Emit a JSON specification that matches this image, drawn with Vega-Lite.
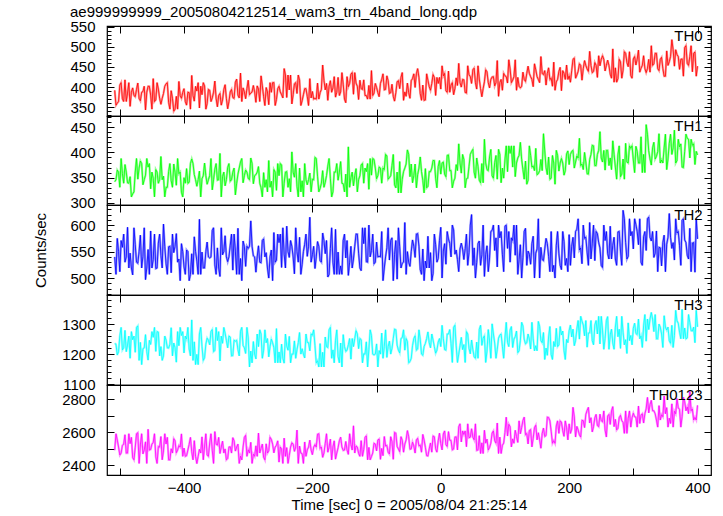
{
"$schema": "https://vega.github.io/schema/vega-lite/v6.json",
"padding": {"left": 32, "top": 4, "right": 10, "bottom": 0},
"spacing": 0,
"bounds": "flush",
"config": {
  "view": {"stroke": "#000000", "strokeWidth": 1.2},
  "font": "Liberation Sans",
  "axis": {"labelFont": "Liberation Sans", "labelFontSize": 15, "labelColor": "#000000", "titleFont": "Liberation Sans", "titleFontSize": 15, "titleFontWeight": "normal", "titleColor": "#000000", "tickColor": "#000000", "domain": false, "grid": false, "title": null, "tickWidth": 1},
  "title": {"font": "Liberation Sans", "fontSize": 15, "fontWeight": "normal", "color": "#000000", "anchor": "start"}
},
"datasets": {
"d": [
{"t":-508,"a":392,"b":342,"c":540,"d":1236,"e":2490},
{"t":-504,"a":360,"b":365,"c":575,"d":1198,"e":2552},
{"t":-500,"a":405,"b":331,"c":512,"d":1262,"e":2461},
{"t":-496,"a":371,"b":358,"c":558,"d":1215,"e":2519},
{"t":-492,"a":418,"b":376,"c":530,"d":1280,"e":2584},
{"t":-488,"a":385,"b":340,"c":596,"d":1231,"e":2473},
{"t":-484,"a":352,"b":352,"c":547,"d":1187,"e":2530},
{"t":-480,"a":398,"b":318,"c":506,"d":1249,"e":2445},
{"t":-476,"a":376,"b":361,"c":563,"d":1207,"e":2508},
{"t":-472,"a":410,"b":347,"c":528,"d":1295,"e":2596},
{"t":-468,"a":366,"b":383,"c":581,"d":1240,"e":2522},
{"t":-464,"a":389,"b":336,"c":541,"d":1219,"e":2468},
{"t":-460,"a":343,"b":355,"c":497,"d":1266,"e":2541},
{"t":-456,"a":402,"b":371,"c":554,"d":1181,"e":2617},
{"t":-452,"a":380,"b":328,"c":589,"d":1233,"e":2495},
{"t":-448,"a":421,"b":349,"c":535,"d":1257,"e":2537},
{"t":-444,"a":368,"b":366,"c":518,"d":1210,"e":2450},
{"t":-440,"a":395,"b":339,"c":566,"d":1274,"e":2512},
{"t":-436,"a":357,"b":392,"c":543,"d":1226,"e":2573},
{"t":-432,"a":384,"b":353,"c":602,"d":1195,"e":2486},
{"t":-428,"a":408,"b":331,"c":527,"d":1248,"e":2528},
{"t":-424,"a":362,"b":362,"c":559,"d":1221,"e":2432},
{"t":-420,"a":391,"b":344,"c":510,"d":1289,"e":2499},
{"t":-416,"a":340,"b":377,"c":548,"d":1238,"e":2560},
{"t":-412,"a":377,"b":335,"c":584,"d":1174,"e":2475},
{"t":-408,"a":414,"b":358,"c":536,"d":1229,"e":2518},
{"t":-404,"a":372,"b":321,"c":565,"d":1263,"e":2589},
{"t":-400,"a":396,"b":350,"c":521,"d":1205,"e":2503},
{"t":-396,"a":355,"b":368,"c":553,"d":1251,"e":2457},
{"t":-392,"a":386,"b":341,"c":495,"d":1218,"e":2526},
{"t":-388,"a":429,"b":387,"c":546,"d":1315,"e":2481},
{"t":-384,"a":365,"b":356,"c":578,"d":1242,"e":2548},
{"t":-380,"a":390,"b":333,"c":532,"d":1200,"e":2409},
{"t":-376,"a":348,"b":363,"c":611,"d":1268,"e":2496},
{"t":-372,"a":381,"b":348,"c":549,"d":1227,"e":2571},
{"t":-368,"a":403,"b":379,"c":519,"d":1189,"e":2515},
{"t":-364,"a":359,"b":337,"c":568,"d":1254,"e":2462},
{"t":-360,"a":392,"b":354,"c":538,"d":1232,"e":2534},
{"t":-356,"a":373,"b":326,"c":590,"d":1283,"e":2490},
{"t":-352,"a":415,"b":367,"c":525,"d":1213,"e":2603},
{"t":-348,"a":351,"b":345,"c":557,"d":1246,"e":2521},
{"t":-344,"a":384,"b":398,"c":503,"d":1178,"e":2470},
{"t":-340,"a":368,"b":352,"c":544,"d":1237,"e":2545},
{"t":-336,"a":406,"b":334,"c":580,"d":1271,"e":2498},
{"t":-332,"a":346,"b":370,"c":531,"d":1222,"e":2440},
{"t":-328,"a":388,"b":343,"c":562,"d":1258,"e":2511},
{"t":-324,"a":374,"b":361,"c":515,"d":1196,"e":2566},
{"t":-320,"a":412,"b":316,"c":551,"d":1244,"e":2485},
{"t":-316,"a":380,"b":357,"c":594,"d":1216,"e":2527},
{"t":-312,"a":435,"b":381,"c":537,"d":1277,"e":2454},
{"t":-308,"a":398,"b":340,"c":570,"d":1230,"e":2509},
{"t":-304,"a":371,"b":365,"c":522,"d":1203,"e":2580},
{"t":-300,"a":417,"b":349,"c":556,"d":1255,"e":2493},
{"t":-296,"a":385,"b":389,"c":608,"d":1211,"e":2538},
{"t":-292,"a":404,"b":338,"c":542,"d":1243,"e":2466},
{"t":-288,"a":362,"b":356,"c":511,"d":1185,"e":2517},
{"t":-284,"a":395,"b":372,"c":561,"d":1226,"e":2594},
{"t":-280,"a":428,"b":330,"c":529,"d":1268,"e":2502},
{"t":-276,"a":376,"b":360,"c":574,"d":1214,"e":2448},
{"t":-272,"a":399,"b":346,"c":548,"d":1239,"e":2529},
{"t":-268,"a":356,"b":384,"c":500,"d":1192,"e":2487},
{"t":-264,"a":387,"b":343,"c":553,"d":1251,"e":2556},
{"t":-260,"a":411,"b":366,"c":586,"d":1222,"e":2474},
{"t":-256,"a":369,"b":325,"c":534,"d":1286,"e":2520},
{"t":-252,"a":402,"b":354,"c":567,"d":1208,"e":2418},
{"t":-248,"a":381,"b":375,"c":520,"d":1234,"e":2497},
{"t":-244,"a":446,"b":339,"c":545,"d":1171,"e":2563},
{"t":-240,"a":374,"b":362,"c":598,"d":1228,"e":2506},
{"t":-236,"a":393,"b":348,"c":539,"d":1260,"e":2459},
{"t":-232,"a":358,"b":401,"c":560,"d":1201,"e":2535},
{"t":-228,"a":408,"b":351,"c":508,"d":1245,"e":2483},
{"t":-224,"a":384,"b":333,"c":550,"d":1216,"e":2612},
{"t":-220,"a":417,"b":369,"c":577,"d":1273,"e":2515},
{"t":-216,"a":366,"b":344,"c":526,"d":1219,"e":2469},
{"t":-212,"a":396,"b":378,"c":564,"d":1188,"e":2540},
{"t":-208,"a":377,"b":336,"c":541,"d":1240,"e":2492},
{"t":-204,"a":421,"b":359,"c":615,"d":1212,"e":2551},
{"t":-200,"a":389,"b":347,"c":544,"d":1264,"e":2463},
{"t":-196,"a":372,"b":390,"c":518,"d":1230,"e":2524},
{"t":-192,"a":410,"b":353,"c":569,"d":1179,"e":2587},
{"t":-188,"a":386,"b":329,"c":533,"d":1236,"e":2501},
{"t":-184,"a":455,"b":364,"c":585,"d":1207,"e":2447},
{"t":-180,"a":393,"b":341,"c":546,"d":1258,"e":2531},
{"t":-176,"a":367,"b":373,"c":502,"d":1223,"e":2478},
{"t":-172,"a":416,"b":349,"c":556,"d":1290,"e":2557},
{"t":-168,"a":398,"b":322,"c":530,"d":1215,"e":2510},
{"t":-164,"a":375,"b":361,"c":592,"d":1247,"e":2436},
{"t":-160,"a":424,"b":345,"c":549,"d":1193,"e":2505},
{"t":-156,"a":388,"b":382,"c":523,"d":1238,"e":2569},
{"t":-152,"a":407,"b":338,"c":571,"d":1266,"e":2489},
{"t":-148,"a":361,"b":357,"c":538,"d":1210,"e":2543},
{"t":-144,"a":401,"b":411,"c":505,"d":1232,"e":2465},
{"t":-140,"a":432,"b":350,"c":560,"d":1184,"e":2525},
{"t":-136,"a":382,"b":334,"c":536,"d":1226,"e":2638},
{"t":-132,"a":410,"b":368,"c":583,"d":1279,"e":2516},
{"t":-128,"a":369,"b":346,"c":547,"d":1219,"e":2471},
{"t":-124,"a":396,"b":375,"c":514,"d":1249,"e":2548},
{"t":-120,"a":418,"b":339,"c":565,"d":1202,"e":2494},
{"t":-116,"a":379,"b":362,"c":531,"d":1242,"e":2577},
{"t":-112,"a":404,"b":327,"c":600,"d":1217,"e":2507},
{"t":-108,"a":441,"b":355,"c":552,"d":1263,"e":2452},
{"t":-104,"a":385,"b":386,"c":527,"d":1198,"e":2532},
{"t":-100,"a":399,"b":348,"c":568,"d":1235,"e":2486},
{"t":-96,"a":376,"b":371,"c":541,"d":1213,"e":2558},
{"t":-92,"a":419,"b":339,"c":588,"d":1271,"e":2501},
{"t":-88,"a":393,"b":366,"c":519,"d":1227,"e":2573},
{"t":-84,"a":428,"b":393,"c":557,"d":1190,"e":2519},
{"t":-80,"a":384,"b":350,"c":534,"d":1244,"e":2467},
{"t":-76,"a":407,"b":374,"c":576,"d":1220,"e":2542},
{"t":-72,"a":365,"b":336,"c":545,"d":1284,"e":2598},
{"t":-68,"a":413,"b":361,"c":498,"d":1231,"e":2513},
{"t":-64,"a":396,"b":382,"c":559,"d":1205,"e":2481},
{"t":-60,"a":436,"b":347,"c":528,"d":1256,"e":2550},
{"t":-56,"a":388,"b":369,"c":605,"d":1214,"e":2527},
{"t":-52,"a":410,"b":405,"c":550,"d":1243,"e":2609},
{"t":-48,"a":372,"b":352,"c":522,"d":1176,"e":2496},
{"t":-44,"a":421,"b":340,"c":572,"d":1229,"e":2539},
{"t":-40,"a":399,"b":377,"c":539,"d":1262,"e":2473},
{"t":-36,"a":446,"b":356,"c":584,"d":1218,"e":2562},
{"t":-32,"a":384,"b":391,"c":516,"d":1250,"e":2521},
{"t":-28,"a":405,"b":345,"c":555,"d":1197,"e":2586},
{"t":-24,"a":368,"b":368,"c":532,"d":1237,"e":2508},
{"t":-20,"a":417,"b":333,"c":579,"d":1275,"e":2455},
{"t":-16,"a":392,"b":362,"c":548,"d":1222,"e":2534},
{"t":-12,"a":431,"b":384,"c":509,"d":1248,"e":2576},
{"t":-8,"a":379,"b":349,"c":563,"d":1204,"e":2499},
{"t":-4,"a":409,"b":372,"c":537,"d":1241,"e":2547},
{"t":0,"a":395,"b":357,"c":596,"d":1226,"e":2530},
{"t":4,"a":428,"b":381,"c":551,"d":1253,"e":2588},
{"t":8,"a":391,"b":352,"c":526,"d":1214,"e":2524},
{"t":12,"a":440,"b":395,"c":574,"d":1268,"e":2603},
{"t":16,"a":405,"b":364,"c":540,"d":1236,"e":2549},
{"t":20,"a":381,"b":343,"c":591,"d":1290,"e":2497},
{"t":24,"a":423,"b":376,"c":553,"d":1229,"e":2571},
{"t":28,"a":459,"b":417,"c":512,"d":1201,"e":2632},
{"t":32,"a":400,"b":359,"c":566,"d":1257,"e":2540},
{"t":36,"a":418,"b":386,"c":535,"d":1233,"e":2585},
{"t":40,"a":385,"b":348,"c":583,"d":1276,"e":2511},
{"t":44,"a":431,"b":372,"c":548,"d":1220,"e":2566},
{"t":48,"a":409,"b":402,"c":620,"d":1248,"e":2620},
{"t":52,"a":447,"b":361,"c":557,"d":1192,"e":2553},
{"t":56,"a":395,"b":389,"c":529,"d":1241,"e":2489},
{"t":60,"a":420,"b":345,"c":570,"d":1283,"e":2578},
{"t":64,"a":376,"b":378,"c":544,"d":1230,"e":2535},
{"t":68,"a":413,"b":426,"c":503,"d":1262,"e":2611},
{"t":72,"a":438,"b":366,"c":561,"d":1211,"e":2557},
{"t":76,"a":398,"b":391,"c":538,"d":1245,"e":2506},
{"t":80,"a":425,"b":354,"c":590,"d":1302,"e":2594},
{"t":84,"a":403,"b":380,"c":552,"d":1238,"e":2548},
{"t":88,"a":466,"b":347,"c":521,"d":1217,"e":2655},
{"t":92,"a":411,"b":396,"c":576,"d":1264,"e":2569},
{"t":96,"a":392,"b":369,"c":545,"d":1227,"e":2520},
{"t":100,"a":428,"b":385,"c":598,"d":1255,"e":2598},
{"t":104,"a":410,"b":362,"c":556,"d":1240,"e":2576},
{"t":108,"a":445,"b":398,"c":530,"d":1281,"e":2632},
{"t":112,"a":417,"b":371,"c":571,"d":1223,"e":2559},
{"t":116,"a":468,"b":352,"c":543,"d":1259,"e":2611},
{"t":120,"a":424,"b":389,"c":507,"d":1206,"e":2537},
{"t":124,"a":398,"b":420,"c":563,"d":1247,"e":2590},
{"t":128,"a":437,"b":366,"c":539,"d":1295,"e":2670},
{"t":132,"a":414,"b":383,"c":594,"d":1235,"e":2584},
{"t":136,"a":452,"b":345,"c":551,"d":1268,"e":2528},
{"t":140,"a":426,"b":394,"c":526,"d":1218,"e":2615},
{"t":144,"a":401,"b":373,"c":579,"d":1252,"e":2563},
{"t":148,"a":443,"b":408,"c":547,"d":1229,"e":2641},
{"t":152,"a":419,"b":358,"c":612,"d":1310,"e":2596},
{"t":156,"a":476,"b":386,"c":558,"d":1246,"e":2502},
{"t":160,"a":431,"b":437,"c":533,"d":1273,"e":2624},
{"t":164,"a":405,"b":370,"c":575,"d":1221,"e":2579},
{"t":168,"a":448,"b":391,"c":541,"d":1258,"e":2688},
{"t":172,"a":422,"b":349,"c":588,"d":1199,"e":2605},
{"t":176,"a":462,"b":379,"c":524,"d":1243,"e":2548},
{"t":180,"a":413,"b":404,"c":562,"d":1287,"e":2637},
{"t":184,"a":439,"b":363,"c":546,"d":1232,"e":2592},
{"t":188,"a":391,"b":388,"c":516,"d":1265,"e":2660},
{"t":192,"a":434,"b":355,"c":569,"d":1213,"e":2574},
{"t":196,"a":455,"b":397,"c":537,"d":1250,"e":2626},
{"t":200,"a":428,"b":376,"c":582,"d":1279,"e":2650},
{"t":204,"a":441,"b":402,"c":560,"d":1258,"e":2618},
{"t":208,"a":472,"b":369,"c":538,"d":1229,"e":2692},
{"t":212,"a":430,"b":393,"c":592,"d":1284,"e":2634},
{"t":216,"a":458,"b":428,"c":553,"d":1251,"e":2583},
{"t":220,"a":417,"b":377,"c":527,"d":1311,"e":2671},
{"t":224,"a":466,"b":400,"c":575,"d":1262,"e":2627},
{"t":228,"a":445,"b":358,"c":549,"d":1224,"e":2731},
{"t":232,"a":489,"b":386,"c":605,"d":1272,"e":2655},
{"t":236,"a":436,"b":414,"c":566,"d":1246,"e":2601},
{"t":240,"a":461,"b":374,"c":533,"d":1298,"e":2686},
{"t":244,"a":424,"b":396,"c":584,"d":1268,"e":2640},
{"t":248,"a":453,"b":441,"c":557,"d":1235,"e":2708},
{"t":252,"a":478,"b":381,"c":520,"d":1281,"e":2662},
{"t":256,"a":440,"b":365,"c":571,"d":1253,"e":2612},
{"t":260,"a":467,"b":404,"c":546,"d":1326,"e":2697},
{"t":264,"a":432,"b":389,"c":598,"d":1265,"e":2646},
{"t":268,"a":495,"b":423,"c":562,"d":1238,"e":2754},
{"t":272,"a":448,"b":371,"c":536,"d":1291,"e":2677},
{"t":276,"a":421,"b":395,"c":587,"d":1259,"e":2623},
{"t":280,"a":463,"b":352,"c":551,"d":1220,"e":2701},
{"t":284,"a":442,"b":387,"c":628,"d":1274,"e":2659},
{"t":288,"a":484,"b":418,"c":567,"d":1249,"e":2728},
{"t":292,"a":451,"b":379,"c":541,"d":1305,"e":2683},
{"t":296,"a":429,"b":408,"c":580,"d":1263,"e":2630},
{"t":300,"a":470,"b":385,"c":555,"d":1287,"e":2714},
{"t":304,"a":455,"b":412,"c":601,"d":1270,"e":2690},
{"t":308,"a":492,"b":379,"c":563,"d":1318,"e":2758},
{"t":312,"a":447,"b":431,"c":530,"d":1262,"e":2702},
{"t":316,"a":478,"b":396,"c":578,"d":1295,"e":2655},
{"t":320,"a":436,"b":455,"c":552,"d":1244,"e":2741},
{"t":324,"a":469,"b":403,"c":615,"d":1283,"e":2716},
{"t":328,"a":503,"b":375,"c":570,"d":1340,"e":2792},
{"t":332,"a":458,"b":420,"c":539,"d":1276,"e":2729},
{"t":336,"a":484,"b":392,"c":589,"d":1252,"e":2673},
{"t":340,"a":441,"b":437,"c":558,"d":1301,"e":2760},
{"t":344,"a":474,"b":385,"c":523,"d":1268,"e":2705},
{"t":348,"a":427,"b":409,"c":581,"d":1329,"e":2818},
{"t":352,"a":490,"b":366,"c":564,"d":1281,"e":2748},
{"t":356,"a":463,"b":418,"c":622,"d":1246,"e":2684},
{"t":360,"a":518,"b":396,"c":556,"d":1297,"e":2771},
{"t":364,"a":452,"b":444,"c":534,"d":1263,"e":2726},
{"t":368,"a":481,"b":384,"c":585,"d":1312,"e":2803},
{"t":372,"a":444,"b":411,"c":561,"d":1274,"e":2737},
{"t":376,"a":470,"b":371,"c":609,"d":1350,"e":2695},
{"t":380,"a":498,"b":402,"c":572,"d":1288,"e":2784},
{"t":384,"a":459,"b":428,"c":543,"d":1255,"e":2752},
{"t":388,"a":476,"b":389,"c":594,"d":1306,"e":2846},
{"t":392,"a":438,"b":414,"c":566,"d":1278,"e":2740},
{"t":396,"a":487,"b":376,"c":511,"d":1239,"e":2689},
{"t":400,"a":452,"b":395,"c":574,"d":1292,"e":2762},
{"t":-506,"a":355,"b":346,"c":507,"d":1234,"e":2590},
{"t":-502,"a":364,"b":361,"c":550,"d":1209,"e":2509},
{"t":-498,"a":411,"b":388,"c":571,"d":1290,"e":2473},
{"t":-494,"a":364,"b":339,"c":583,"d":1222,"e":2527},
{"t":-490,"a":364,"b":361,"c":540,"d":1209,"e":2473},
{"t":-486,"a":411,"b":339,"c":519,"d":1261,"e":2590},
{"t":-482,"a":387,"b":312,"c":519,"d":1276,"e":2568},
{"t":-478,"a":379,"b":322,"c":595,"d":1261,"e":2432},
{"t":-474,"a":394,"b":388,"c":530,"d":1290,"e":2590},
{"t":-470,"a":372,"b":369,"c":550,"d":1180,"e":2410},
{"t":-466,"a":387,"b":378,"c":519,"d":1166,"e":2590},
{"t":-462,"a":402,"b":346,"c":595,"d":1222,"e":2491},
{"t":-458,"a":387,"b":388,"c":519,"d":1209,"e":2410},
{"t":-454,"a":402,"b":378,"c":507,"d":1247,"e":2491},
{"t":-450,"a":345,"b":361,"c":519,"d":1276,"e":2527},
{"t":-446,"a":364,"b":312,"c":583,"d":1290,"e":2590},
{"t":-442,"a":411,"b":361,"c":519,"d":1276,"e":2410},
{"t":-438,"a":372,"b":346,"c":583,"d":1195,"e":2509},
{"t":-434,"a":372,"b":346,"c":519,"d":1180,"e":2432},
{"t":-430,"a":402,"b":312,"c":560,"d":1261,"e":2590},
{"t":-426,"a":411,"b":331,"c":507,"d":1222,"e":2568},
{"t":-422,"a":345,"b":378,"c":560,"d":1234,"e":2432},
{"t":-418,"a":372,"b":331,"c":583,"d":1195,"e":2473},
{"t":-414,"a":345,"b":361,"c":560,"d":1222,"e":2547},
{"t":-410,"a":345,"b":388,"c":530,"d":1276,"e":2491},
{"t":-406,"a":379,"b":361,"c":495,"d":1290,"e":2509},
{"t":-402,"a":387,"b":312,"c":550,"d":1276,"e":2453},
{"t":-398,"a":364,"b":339,"c":507,"d":1261,"e":2453},
{"t":-394,"a":387,"b":339,"c":550,"d":1290,"e":2491},
{"t":-390,"a":345,"b":378,"c":507,"d":1195,"e":2568},
{"t":-386,"a":379,"b":378,"c":507,"d":1180,"e":2432},
{"t":-382,"a":402,"b":346,"c":550,"d":1166,"e":2453},
{"t":-378,"a":411,"b":346,"c":507,"d":1166,"e":2453},
{"t":-374,"a":402,"b":312,"c":507,"d":1290,"e":2473},
{"t":-370,"a":411,"b":354,"c":519,"d":1180,"e":2432},
{"t":-366,"a":345,"b":354,"c":550,"d":1234,"e":2590},
{"t":-362,"a":394,"b":346,"c":540,"d":1247,"e":2453},
{"t":-358,"a":364,"b":388,"c":540,"d":1276,"e":2590},
{"t":-354,"a":387,"b":346,"c":595,"d":1209,"e":2410},
{"t":-350,"a":372,"b":378,"c":507,"d":1290,"e":2527},
{"t":-346,"a":379,"b":346,"c":519,"d":1276,"e":2568},
{"t":-342,"a":355,"b":312,"c":595,"d":1261,"e":2509},
{"t":-338,"a":394,"b":361,"c":550,"d":1290,"e":2473},
{"t":-334,"a":372,"b":346,"c":540,"d":1247,"e":2432},
{"t":-330,"a":364,"b":378,"c":540,"d":1261,"e":2509},
{"t":-326,"a":394,"b":346,"c":583,"d":1195,"e":2473},
{"t":-322,"a":372,"b":369,"c":583,"d":1247,"e":2547},
{"t":-318,"a":420,"b":339,"c":507,"d":1247,"e":2509},
{"t":-314,"a":373,"b":369,"c":507,"d":1195,"e":2410},
{"t":-310,"a":364,"b":388,"c":495,"d":1290,"e":2432},
{"t":-306,"a":388,"b":354,"c":560,"d":1222,"e":2568},
{"t":-302,"a":396,"b":361,"c":560,"d":1290,"e":2453},
{"t":-298,"a":381,"b":346,"c":560,"d":1158,"e":2473},
{"t":-294,"a":388,"b":378,"c":560,"d":1172,"e":2410},
{"t":-290,"a":388,"b":354,"c":540,"d":1201,"e":2453},
{"t":-286,"a":403,"b":361,"c":540,"d":1268,"e":2453},
{"t":-282,"a":364,"b":339,"c":530,"d":1282,"e":2473},
{"t":-278,"a":403,"b":312,"c":571,"d":1187,"e":2527},
{"t":-274,"a":354,"b":331,"c":540,"d":1282,"e":2432},
{"t":-270,"a":388,"b":322,"c":519,"d":1253,"e":2473},
{"t":-266,"a":411,"b":331,"c":540,"d":1226,"e":2568},
{"t":-262,"a":411,"b":312,"c":495,"d":1239,"e":2527},
{"t":-258,"a":354,"b":361,"c":530,"d":1172,"e":2509},
{"t":-254,"a":396,"b":378,"c":583,"d":1172,"e":2547},
{"t":-250,"a":388,"b":378,"c":583,"d":1172,"e":2509},
{"t":-246,"a":373,"b":312,"c":595,"d":1187,"e":2410},
{"t":-242,"a":430,"b":361,"c":519,"d":1268,"e":2453},
{"t":-238,"a":430,"b":331,"c":550,"d":1214,"e":2410},
{"t":-234,"a":430,"b":322,"c":571,"d":1172,"e":2509},
{"t":-230,"a":381,"b":361,"c":540,"d":1201,"e":2527},
{"t":-226,"a":411,"b":378,"c":595,"d":1187,"e":2509},
{"t":-222,"a":430,"b":312,"c":530,"d":1239,"e":2410},
{"t":-218,"a":354,"b":322,"c":507,"d":1201,"e":2473},
{"t":-214,"a":381,"b":312,"c":550,"d":1201,"e":2410},
{"t":-210,"a":396,"b":346,"c":583,"d":1268,"e":2453},
{"t":-206,"a":354,"b":346,"c":560,"d":1239,"e":2509},
{"t":-202,"a":373,"b":322,"c":530,"d":1268,"e":2491},
{"t":-198,"a":370,"b":346,"c":560,"d":1282,"e":2509},
{"t":-194,"a":370,"b":388,"c":540,"d":1172,"e":2509},
{"t":-190,"a":370,"b":322,"c":560,"d":1158,"e":2590},
{"t":-186,"a":394,"b":339,"c":530,"d":1158,"e":2509},
{"t":-182,"a":417,"b":331,"c":571,"d":1158,"e":2473},
{"t":-178,"a":409,"b":354,"c":571,"d":1226,"e":2590},
{"t":-174,"a":402,"b":388,"c":507,"d":1282,"e":2509},
{"t":-170,"a":387,"b":312,"c":595,"d":1187,"e":2432},
{"t":-166,"a":426,"b":361,"c":507,"d":1172,"e":2547},
{"t":-162,"a":387,"b":378,"c":507,"d":1282,"e":2473},
{"t":-158,"a":379,"b":361,"c":507,"d":1172,"e":2547},
{"t":-154,"a":436,"b":339,"c":507,"d":1158,"e":2509},
{"t":-150,"a":370,"b":322,"c":583,"d":1226,"e":2491},
{"t":-146,"a":426,"b":312,"c":571,"d":1214,"e":2491},
{"t":-142,"a":409,"b":331,"c":530,"d":1253,"e":2590},
{"t":-138,"a":436,"b":361,"c":519,"d":1253,"e":2491},
{"t":-134,"a":436,"b":354,"c":560,"d":1253,"e":2473},
{"t":-130,"a":402,"b":322,"c":583,"d":1268,"e":2509},
{"t":-126,"a":417,"b":354,"c":519,"d":1253,"e":2453},
{"t":-122,"a":394,"b":378,"c":595,"d":1172,"e":2453},
{"t":-118,"a":379,"b":369,"c":595,"d":1201,"e":2568},
{"t":-114,"a":370,"b":378,"c":530,"d":1158,"e":2432},
{"t":-110,"a":370,"b":388,"c":540,"d":1282,"e":2432},
{"t":-106,"a":379,"b":388,"c":583,"d":1201,"e":2473},
{"t":-102,"a":409,"b":369,"c":530,"d":1201,"e":2527},
{"t":-98,"a":386,"b":354,"c":540,"d":1158,"e":2552},
{"t":-94,"a":409,"b":369,"c":540,"d":1201,"e":2435},
{"t":-90,"a":433,"b":369,"c":495,"d":1187,"e":2457},
{"t":-86,"a":394,"b":396,"c":540,"d":1282,"e":2516},
{"t":-82,"a":416,"b":347,"c":595,"d":1226,"e":2478},
{"t":-78,"a":386,"b":354,"c":571,"d":1201,"e":2572},
{"t":-74,"a":377,"b":396,"c":495,"d":1253,"e":2435},
{"t":-70,"a":386,"b":330,"c":571,"d":1282,"e":2593},
{"t":-66,"a":416,"b":320,"c":595,"d":1214,"e":2498},
{"t":-62,"a":424,"b":320,"c":519,"d":1253,"e":2572},
{"t":-58,"a":367,"b":362,"c":530,"d":1282,"e":2478},
{"t":-54,"a":377,"b":377,"c":507,"d":1253,"e":2552},
{"t":-50,"a":386,"b":396,"c":530,"d":1172,"e":2572},
{"t":-46,"a":416,"b":377,"c":550,"d":1187,"e":2498},
{"t":-42,"a":433,"b":354,"c":560,"d":1253,"e":2516},
{"t":-38,"a":433,"b":330,"c":583,"d":1214,"e":2552},
{"t":-34,"a":424,"b":369,"c":560,"d":1282,"e":2516},
{"t":-30,"a":367,"b":362,"c":507,"d":1201,"e":2478},
{"t":-26,"a":367,"b":320,"c":495,"d":1226,"e":2552},
{"t":-22,"a":433,"b":330,"c":519,"d":1253,"e":2457},
{"t":-18,"a":401,"b":362,"c":519,"d":1239,"e":2498},
{"t":-14,"a":409,"b":369,"c":495,"d":1268,"e":2478},
{"t":-10,"a":424,"b":384,"c":583,"d":1226,"e":2572},
{"t":-6,"a":424,"b":330,"c":530,"d":1214,"e":2478},
{"t":-2,"a":424,"b":384,"c":571,"d":1253,"e":2593},
{"t":2,"a":453,"b":379,"c":500,"d":1297,"e":2492},
{"t":6,"a":434,"b":357,"c":565,"d":1216,"e":2607},
{"t":10,"a":387,"b":394,"c":588,"d":1268,"e":2513},
{"t":14,"a":387,"b":364,"c":565,"d":1283,"e":2551},
{"t":18,"a":411,"b":330,"c":600,"d":1173,"e":2492},
{"t":22,"a":396,"b":349,"c":545,"d":1297,"e":2569},
{"t":26,"a":404,"b":364,"c":535,"d":1173,"e":2492},
{"t":30,"a":411,"b":379,"c":555,"d":1229,"e":2650},
{"t":34,"a":419,"b":396,"c":555,"d":1216,"e":2607},
{"t":38,"a":387,"b":330,"c":555,"d":1173,"e":2607},
{"t":42,"a":453,"b":349,"c":524,"d":1268,"e":2650},
{"t":46,"a":426,"b":396,"c":600,"d":1202,"e":2569},
{"t":50,"a":443,"b":406,"c":524,"d":1216,"e":2569},
{"t":54,"a":411,"b":349,"c":500,"d":1187,"e":2650},
{"t":58,"a":453,"b":372,"c":565,"d":1187,"e":2492},
{"t":62,"a":396,"b":340,"c":524,"d":1297,"e":2470},
{"t":66,"a":396,"b":340,"c":600,"d":1254,"e":2470},
{"t":70,"a":443,"b":379,"c":545,"d":1173,"e":2533},
{"t":74,"a":411,"b":364,"c":512,"d":1283,"e":2492},
{"t":78,"a":419,"b":406,"c":588,"d":1187,"e":2533},
{"t":82,"a":426,"b":349,"c":600,"d":1268,"e":2607},
{"t":86,"a":411,"b":394,"c":576,"d":1187,"e":2533},
{"t":90,"a":377,"b":406,"c":600,"d":1254,"e":2470},
{"t":94,"a":419,"b":340,"c":588,"d":1268,"e":2470},
{"t":98,"a":434,"b":349,"c":512,"d":1187,"e":2533},
{"t":102,"a":426,"b":413,"c":600,"d":1307,"e":2690},
{"t":106,"a":468,"b":413,"c":588,"d":1226,"e":2647},
{"t":110,"a":411,"b":413,"c":576,"d":1293,"e":2510},
{"t":114,"a":426,"b":413,"c":600,"d":1251,"e":2532},
{"t":118,"a":392,"b":379,"c":600,"d":1278,"e":2573},
{"t":122,"a":402,"b":394,"c":535,"d":1212,"e":2668},
{"t":126,"a":402,"b":386,"c":500,"d":1307,"e":2627},
{"t":130,"a":419,"b":347,"c":588,"d":1251,"e":2690},
{"t":134,"a":434,"b":337,"c":524,"d":1239,"e":2591},
{"t":138,"a":434,"b":413,"c":545,"d":1251,"e":2609},
{"t":142,"a":419,"b":371,"c":565,"d":1307,"e":2510},
{"t":146,"a":458,"b":364,"c":500,"d":1212,"e":2627},
{"t":150,"a":426,"b":356,"c":555,"d":1212,"e":2553},
{"t":154,"a":411,"b":364,"c":500,"d":1293,"e":2553},
{"t":158,"a":434,"b":364,"c":535,"d":1239,"e":2591},
{"t":162,"a":441,"b":403,"c":555,"d":1183,"e":2573},
{"t":166,"a":434,"b":356,"c":565,"d":1197,"e":2690},
{"t":170,"a":419,"b":347,"c":512,"d":1293,"e":2668},
{"t":174,"a":402,"b":394,"c":512,"d":1183,"e":2532},
{"t":178,"a":392,"b":337,"c":500,"d":1226,"e":2532},
{"t":182,"a":419,"b":394,"c":588,"d":1226,"e":2668},
{"t":186,"a":449,"b":379,"c":524,"d":1293,"e":2668},
{"t":190,"a":441,"b":379,"c":588,"d":1278,"e":2609},
{"t":194,"a":419,"b":364,"c":524,"d":1183,"e":2668},
{"t":198,"a":419,"b":403,"c":512,"d":1239,"e":2553},
{"t":202,"a":412,"b":396,"c":524,"d":1298,"e":2592},
{"t":206,"a":469,"b":404,"c":577,"d":1284,"e":2750},
{"t":210,"a":422,"b":381,"c":588,"d":1246,"e":2570},
{"t":214,"a":439,"b":389,"c":612,"d":1313,"e":2613},
{"t":218,"a":454,"b":374,"c":557,"d":1327,"e":2570},
{"t":222,"a":446,"b":366,"c":600,"d":1298,"e":2669},
{"t":226,"a":454,"b":381,"c":577,"d":1313,"e":2707},
{"t":230,"a":439,"b":357,"c":524,"d":1271,"e":2750},
{"t":234,"a":454,"b":396,"c":536,"d":1313,"e":2687},
{"t":238,"a":439,"b":413,"c":600,"d":1232,"e":2633},
{"t":242,"a":454,"b":374,"c":588,"d":1313,"e":2707},
{"t":246,"a":478,"b":404,"c":567,"d":1327,"e":2633},
{"t":250,"a":469,"b":389,"c":524,"d":1327,"e":2669},
{"t":254,"a":469,"b":404,"c":600,"d":1217,"e":2728},
{"t":258,"a":454,"b":404,"c":588,"d":1313,"e":2570},
{"t":262,"a":454,"b":374,"c":536,"d":1217,"e":2707},
{"t":266,"a":422,"b":366,"c":536,"d":1284,"e":2728},
{"t":270,"a":412,"b":396,"c":577,"d":1217,"e":2633},
{"t":274,"a":412,"b":347,"c":524,"d":1327,"e":2613},
{"t":278,"a":469,"b":413,"c":588,"d":1284,"e":2687},
{"t":282,"a":422,"b":357,"c":524,"d":1327,"e":2669},
{"t":286,"a":488,"b":347,"c":612,"d":1232,"e":2592},
{"t":290,"a":461,"b":381,"c":536,"d":1203,"e":2592},
{"t":294,"a":488,"b":413,"c":612,"d":1246,"e":2728},
{"t":298,"a":422,"b":413,"c":588,"d":1232,"e":2687},
{"t":302,"a":476,"b":360,"c":612,"d":1304,"e":2693},
{"t":306,"a":469,"b":402,"c":588,"d":1266,"e":2630},
{"t":310,"a":437,"b":379,"c":612,"d":1252,"e":2652},
{"t":314,"a":454,"b":360,"c":524,"d":1223,"e":2711},
{"t":318,"a":446,"b":360,"c":588,"d":1333,"e":2711},
{"t":322,"a":446,"b":436,"c":612,"d":1318,"e":2810},
{"t":326,"a":437,"b":387,"c":577,"d":1318,"e":2767},
{"t":330,"a":454,"b":409,"c":588,"d":1318,"e":2729},
{"t":334,"a":484,"b":387,"c":547,"d":1333,"e":2711},
{"t":338,"a":446,"b":402,"c":512,"d":1252,"e":2630},
{"t":342,"a":469,"b":379,"c":557,"d":1291,"e":2673},
{"t":346,"a":446,"b":379,"c":567,"d":1223,"e":2693},
{"t":350,"a":427,"b":436,"c":512,"d":1291,"e":2711},
{"t":354,"a":454,"b":387,"c":577,"d":1291,"e":2630},
{"t":358,"a":476,"b":436,"c":577,"d":1237,"e":2652},
{"t":362,"a":493,"b":409,"c":567,"d":1223,"e":2630},
{"t":366,"a":493,"b":379,"c":612,"d":1347,"e":2711},
{"t":370,"a":476,"b":426,"c":588,"d":1304,"e":2747},
{"t":374,"a":469,"b":417,"c":524,"d":1252,"e":2630},
{"t":378,"a":427,"b":370,"c":612,"d":1252,"e":2810},
{"t":382,"a":503,"b":436,"c":567,"d":1252,"e":2729},
{"t":386,"a":454,"b":426,"c":536,"d":1333,"e":2711},
{"t":390,"a":503,"b":426,"c":512,"d":1279,"e":2729},
{"t":394,"a":484,"b":417,"c":567,"d":1291,"e":2673},
{"t":398,"a":427,"b":402,"c":612,"d":1347,"e":2673}
]
},
"data": {"name": "d"},
"vconcat": [
{
  "width": 604, "height": 90,
  "title": {"text": "ae999999999_20050804212514_wam3_trn_4band_long.qdp", "anchor": "start", "offset": 0},
  "layer": [
    {"mark": {"type": "line", "color": "#ff0000", "strokeWidth": 2.2, "opacity": 0.4, "clip": true},
     "encoding": {
       "x": {"field": "t", "type": "quantitative", "scale": {"domain": [-520, 421], "nice": false, "zero": false}, "axis": {"orient": "bottom", "values": [-500,-400,-300,-200,-100,0,100,200,300,400], "labels": false, "tickSize": -7}},
       "y": {"field": "a", "type": "quantitative", "scale": {"domain": [328, 552], "nice": false, "zero": false}, "axis": {"orient": "left", "values": [350,400,450,500,550], "tickSize": -7, "labelPadding": 19}}}},
    {"mark": {"type": "line", "color": "#ff0000", "strokeWidth": 0.8, "clip": true},
     "encoding": {
       "x": {"field": "t", "type": "quantitative", "axis": {"orient": "top", "values": [-500,-400,-300,-200,-100,0,100,200,300,400], "labels": false, "tickSize": -7}},
       "y": {"field": "a", "type": "quantitative", "axis": {"orient": "right", "values": [350,400,450,500,550], "labels": false, "tickSize": -7}}}},
    {"data": {"values": [{"lab": "TH0"}]},
     "mark": {"type": "text", "align": "right", "baseline": "top", "dy": 3, "fontSize": 15, "font": "Liberation Sans", "color": "#000000"},
     "encoding": {
       "x": {"datum": 408, "type": "quantitative", "axis": null},
       "y": {"datum": 552, "type": "quantitative", "axis": {"orient": "left", "values": [330,340,360,370,380,390,410,420,430,440,460,470,480,490,510,520,530,540], "labels": false, "tickSize": -4}},
       "text": {"field": "lab"}}},
    {"data": {"values": [{"lab": "TH0"}]},
     "mark": {"type": "text", "opacity": 0},
     "encoding": {
       "x": {"datum": 408, "type": "quantitative", "axis": null},
       "y": {"datum": 552, "type": "quantitative", "axis": {"orient": "right", "values": [330,340,360,370,380,390,410,420,430,440,460,470,480,490,510,520,530,540], "labels": false, "tickSize": -4}},
       "text": {"field": "lab"}}}
  ],
  "resolve": {"axis": {"x": "independent", "y": "independent"}}
},
{
  "width": 604, "height": 89,
  "layer": [
    {"mark": {"type": "line", "color": "#00ff00", "strokeWidth": 2.2, "opacity": 0.4, "clip": true},
     "encoding": {
       "x": {"field": "t", "type": "quantitative", "scale": {"domain": [-520, 421], "nice": false, "zero": false}, "axis": {"orient": "bottom", "values": [-500,-400,-300,-200,-100,0,100,200,300,400], "labels": false, "tickSize": -7}},
       "y": {"field": "b", "type": "quantitative", "scale": {"domain": [296, 472], "nice": false, "zero": false}, "axis": {"orient": "left", "values": [300,350,400,450], "tickSize": -7, "labelPadding": 19}}}},
    {"mark": {"type": "line", "color": "#00ff00", "strokeWidth": 0.8, "clip": true},
     "encoding": {
       "x": {"field": "t", "type": "quantitative", "axis": {"orient": "top", "values": [-500,-400,-300,-200,-100,0,100,200,300,400], "labels": false, "tickSize": -7}},
       "y": {"field": "b", "type": "quantitative", "axis": {"orient": "right", "values": [300,350,400,450], "labels": false, "tickSize": -7}}}},
    {"data": {"values": [{"lab": "TH1"}]},
     "mark": {"type": "text", "align": "right", "baseline": "top", "dy": 3, "fontSize": 15, "font": "Liberation Sans", "color": "#000000"},
     "encoding": {
       "x": {"datum": 408, "type": "quantitative", "axis": null},
       "y": {"datum": 472, "type": "quantitative", "axis": {"orient": "left", "values": [310,320,330,340,360,370,380,390,410,420,430,440,460,470], "labels": false, "tickSize": -4}},
       "text": {"field": "lab"}}},
    {"data": {"values": [{"lab": "TH1"}]},
     "mark": {"type": "text", "opacity": 0},
     "encoding": {
       "x": {"datum": 408, "type": "quantitative", "axis": null},
       "y": {"datum": 472, "type": "quantitative", "axis": {"orient": "right", "values": [310,320,330,340,360,370,380,390,410,420,430,440,460,470], "labels": false, "tickSize": -4}},
       "text": {"field": "lab"}}}
  ],
  "resolve": {"axis": {"x": "independent", "y": "independent"}}
},
{
  "width": 604, "height": 90,
  "layer": [
    {"mark": {"type": "line", "color": "#0000ff", "strokeWidth": 2.2, "opacity": 0.4, "clip": true},
     "encoding": {
       "x": {"field": "t", "type": "quantitative", "scale": {"domain": [-520, 421], "nice": false, "zero": false}, "axis": {"orient": "bottom", "values": [-500,-400,-300,-200,-100,0,100,200,300,400], "labels": false, "tickSize": -7}},
       "y": {"field": "c", "type": "quantitative", "scale": {"domain": [468, 638], "nice": false, "zero": false}, "axis": {"orient": "left", "values": [500,550,600], "tickSize": -7, "labelPadding": 19, "title": "Counts/sec", "titleX": -59, "titleY": 45, "titleAngle": -90}}}},
    {"mark": {"type": "line", "color": "#0000ff", "strokeWidth": 0.8, "clip": true},
     "encoding": {
       "x": {"field": "t", "type": "quantitative", "axis": {"orient": "top", "values": [-500,-400,-300,-200,-100,0,100,200,300,400], "labels": false, "tickSize": -7}},
       "y": {"field": "c", "type": "quantitative", "axis": {"orient": "right", "values": [500,550,600], "labels": false, "tickSize": -7}}}},
    {"data": {"values": [{"lab": "TH2"}]},
     "mark": {"type": "text", "align": "right", "baseline": "top", "dy": 3, "fontSize": 15, "font": "Liberation Sans", "color": "#000000"},
     "encoding": {
       "x": {"datum": 408, "type": "quantitative", "axis": null},
       "y": {"datum": 638, "type": "quantitative", "axis": {"orient": "left", "values": [470,480,490,510,520,530,540,560,570,580,590,610,620,630], "labels": false, "tickSize": -4}},
       "text": {"field": "lab"}}},
    {"data": {"values": [{"lab": "TH2"}]},
     "mark": {"type": "text", "opacity": 0},
     "encoding": {
       "x": {"datum": 408, "type": "quantitative", "axis": null},
       "y": {"datum": 638, "type": "quantitative", "axis": {"orient": "right", "values": [470,480,490,510,520,530,540,560,570,580,590,610,620,630], "labels": false, "tickSize": -4}},
       "text": {"field": "lab"}}}
  ],
  "resolve": {"axis": {"x": "independent", "y": "independent"}}
},
{
  "width": 604, "height": 90,
  "layer": [
    {"mark": {"type": "line", "color": "#00ffff", "strokeWidth": 2.2, "opacity": 0.4, "clip": true},
     "encoding": {
       "x": {"field": "t", "type": "quantitative", "scale": {"domain": [-520, 421], "nice": false, "zero": false}, "axis": {"orient": "bottom", "values": [-500,-400,-300,-200,-100,0,100,200,300,400], "labels": false, "tickSize": -7}},
       "y": {"field": "d", "type": "quantitative", "scale": {"domain": [1098, 1398], "nice": false, "zero": false}, "axis": {"orient": "left", "values": [1100,1200,1300], "format": "d", "tickSize": -7, "labelPadding": 19}}}},
    {"mark": {"type": "line", "color": "#00ffff", "strokeWidth": 0.8, "clip": true},
     "encoding": {
       "x": {"field": "t", "type": "quantitative", "axis": {"orient": "top", "values": [-500,-400,-300,-200,-100,0,100,200,300,400], "labels": false, "tickSize": -7}},
       "y": {"field": "d", "type": "quantitative", "axis": {"orient": "right", "values": [1100,1200,1300], "labels": false, "tickSize": -7}}}},
    {"data": {"values": [{"lab": "TH3"}]},
     "mark": {"type": "text", "align": "right", "baseline": "top", "dy": 3, "fontSize": 15, "font": "Liberation Sans", "color": "#000000"},
     "encoding": {
       "x": {"datum": 408, "type": "quantitative", "axis": null},
       "y": {"datum": 1398, "type": "quantitative", "axis": {"orient": "left", "values": [1120,1140,1160,1180,1220,1240,1260,1280,1320,1340,1360,1380], "labels": false, "tickSize": -4}},
       "text": {"field": "lab"}}},
    {"data": {"values": [{"lab": "TH3"}]},
     "mark": {"type": "text", "opacity": 0},
     "encoding": {
       "x": {"datum": 408, "type": "quantitative", "axis": null},
       "y": {"datum": 1398, "type": "quantitative", "axis": {"orient": "right", "values": [1120,1140,1160,1180,1220,1240,1260,1280,1320,1340,1360,1380], "labels": false, "tickSize": -4}},
       "text": {"field": "lab"}}}
  ],
  "resolve": {"axis": {"x": "independent", "y": "independent"}}
},
{
  "width": 604, "height": 90,
  "layer": [
    {"mark": {"type": "line", "color": "#ff00ff", "strokeWidth": 2.2, "opacity": 0.4, "clip": true},
     "encoding": {
       "x": {"field": "t", "type": "quantitative", "scale": {"domain": [-520, 421], "nice": false, "zero": false}, "axis": {"orient": "bottom", "values": [-500,-400,-300,-200,-100,0,100,200,300,400], "labelExpr": "datum.value % 200 === 0 ? datum.label : ''", "tickSize": -7, "labelPadding": 12, "title": "Time [sec] 0 = 2005/08/04 21:25:14", "titlePadding": 2}},
       "y": {"field": "e", "type": "quantitative", "scale": {"domain": [2340, 2885], "nice": false, "zero": false}, "axis": {"orient": "left", "values": [2400,2500,2600,2700,2800], "labelExpr": "datum.value % 200 === 0 ? datum.label : ''", "format": "d", "tickSize": -7, "labelPadding": 19}}}},
    {"mark": {"type": "line", "color": "#ff00ff", "strokeWidth": 0.8, "clip": true},
     "encoding": {
       "x": {"field": "t", "type": "quantitative", "axis": {"orient": "top", "values": [-500,-400,-300,-200,-100,0,100,200,300,400], "labels": false, "tickSize": -7}},
       "y": {"field": "e", "type": "quantitative", "axis": {"orient": "right", "values": [2400,2500,2600,2700,2800], "labels": false, "tickSize": -7}}}},
    {"data": {"values": [{"lab": "TH0123"}]},
     "mark": {"type": "text", "align": "right", "baseline": "top", "dy": 3, "fontSize": 15, "font": "Liberation Sans", "color": "#000000"},
     "encoding": {
       "x": {"datum": 408, "type": "quantitative", "axis": null},
       "y": {"datum": 2885, "type": "quantitative", "axis": null},
       "text": {"field": "lab"}}}
  ],
  "resolve": {"axis": {"x": "independent", "y": "independent"}}
}
]
}
